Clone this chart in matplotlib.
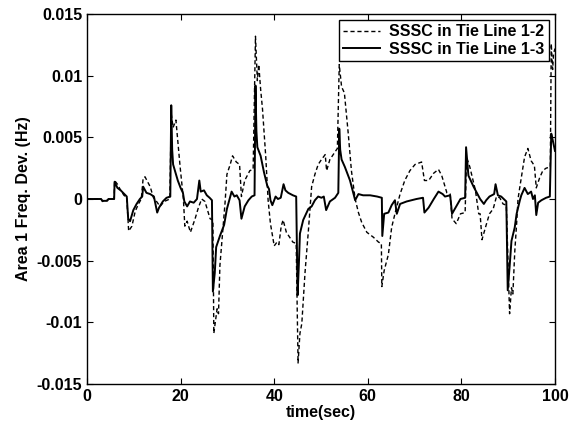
import matplotlib
matplotlib.use("Agg")
import matplotlib.pyplot as plt
from matplotlib.ticker import FuncFormatter

# SSSC in Tie Line 1-2 (dashed)
t_12 = [0, 3.0, 3.3, 4.3, 4.6, 5.8, 5.9, 6.5, 7.2, 7.9, 8.5, 8.9, 9.6, 10.3, 11.0, 11.6,
        12.0, 12.4, 12.8, 13.5, 14.2, 14.5, 15.6, 16.5, 17.7, 18.0, 18.4, 19.0, 19.9, 20.6,
        20.9, 21.4, 22.1, 23.1, 23.8, 24.5, 25.2, 26.3, 26.9, 27.1, 27.8, 28.1, 28.4, 29.1,
        29.5, 29.9, 30.6, 31.1, 31.9, 32.6, 33.0, 33.7, 34.8, 35.5, 36.0, 36.4, 36.7, 37.1,
        37.5, 38.2, 38.7, 39.2, 39.6, 40.0, 40.6, 41.0, 41.5, 41.9, 42.6, 44.0, 44.7, 45.1,
        45.5, 45.9, 46.6, 47.3, 47.7, 48.0, 48.7, 49.4, 50.1, 50.9, 51.2, 51.9, 52.6, 53.5,
        53.9, 54.4, 55.0, 55.8, 56.5, 57.3, 58.0, 58.7, 59.8, 61.2, 62.3, 62.9, 63.0, 63.5,
        64.4, 65.1, 65.8, 66.9, 67.9, 69.0, 70.1, 71.5, 72.1, 73.0, 74.1, 75.1, 75.8, 76.9,
        77.6, 78.0, 78.9, 79.8, 80.8, 81.1, 81.8, 83.0, 83.7, 84.0, 84.4, 85.3, 86.0, 86.8,
        87.5, 88.2, 88.9, 89.6, 90.3, 90.7, 91.0, 91.4, 91.8, 92.1, 92.5, 93.5, 94.2, 94.9,
        95.6, 96.0, 96.7, 97.4, 98.1, 99.0, 99.2, 99.5, 99.7, 100]
f_12 = [0, 0, -0.0002, -0.0001, 0, 0, 0.0015, 0.0012, 0.0007, 0.0003, 0.0001, -0.0026,
        -0.0022, -0.0010, -0.0004, 0.0, 0.0017, 0.0018, 0.0015, 0.0010, 0.0001, 0.0,
        -0.0006, -0.0002, 0.0, 0.0069, 0.0058, 0.0064, 0.0026, 0.0, -0.0022, -0.0018,
        -0.0027, -0.0016, -0.0007, 0.0, -0.0002, -0.0016, -0.0017, -0.0109, -0.0089,
        -0.0093, -0.0054, -0.0022, -0.0003, 0.0020, 0.0028, 0.0035, 0.0030, 0.0028, 0.0002,
        0.0015, 0.0023, 0.0024, 0.0132, 0.0096, 0.0109, 0.0089, 0.0073, 0.0034, -0.0001,
        -0.0020, -0.0029, -0.0038, -0.0035, -0.0037, -0.0022, -0.0017, -0.0027, -0.0035,
        -0.0036, -0.0133, -0.0109, -0.0101, -0.0059, -0.0026, -0.0006, 0.0010, 0.0020,
        0.0028, 0.0032, 0.0036, 0.0023, 0.0032, 0.0036, 0.0041, 0.0109, 0.0091, 0.0086,
        0.0054, 0.0023, 0.0, -0.0011, -0.0019, -0.0027, -0.0031, -0.0035, -0.0036, -0.0071,
        -0.0058, -0.0045, -0.0023, -0.0012, 0.0004, 0.0015, 0.0023, 0.0028, 0.0030, 0.0015,
        0.0015, 0.0021, 0.0024, 0.0019, 0.0005, 0.0004, -0.0016, -0.0020, -0.0012, -0.0011,
        0.0034, 0.0026, 0.0007, -0.0012, -0.0012, -0.0033, -0.0021, -0.0012, -0.0008,
        0.0002, 0.0001, -0.0004, -0.0005, -0.0093, -0.0072, -0.0077, -0.0043, -0.0020, 0.0,
        0.0010, 0.0034, 0.0041, 0.0031, 0.0027, 0.0009, 0.0017, 0.0023, 0.0025, 0.0026,
        0.0126, 0.0105, 0.0118, 0.0122]

# SSSC in Tie Line 1-3 (solid)
t_13 = [0, 3.0, 3.3, 4.3, 4.6, 5.8, 5.9, 6.5, 7.2, 8.5, 8.8, 9.2, 9.9, 10.6, 11.3, 11.8,
        12.0, 12.7, 13.5, 14.3, 15.0, 15.4, 16.2, 17.0, 17.8, 18.0, 18.2, 18.4, 19.4, 20.0,
        20.5, 20.8, 21.4, 22.0, 22.8, 23.5, 24.0, 24.3, 25.0, 25.6, 26.2, 26.7, 26.9, 27.3,
        27.6, 28.4, 29.3, 29.9, 30.6, 30.9, 31.5, 32.0, 32.6, 33.0, 33.7, 34.5, 35.2, 35.8,
        36.0, 36.2, 36.4, 37.1, 37.8, 38.5, 38.9, 39.2, 39.6, 40.3, 40.8, 41.4, 42.0, 42.4,
        43.0, 44.0, 44.7, 45.0, 45.3, 45.5, 46.2, 47.3, 48.0, 48.7, 49.4, 50.1, 50.6, 51.1,
        51.9, 53.0, 53.7, 53.9, 54.1, 54.4, 55.1, 56.2, 57.3, 58.0, 59.0, 60.5, 62.0, 63.0,
        63.1, 63.5, 64.4, 65.1, 65.8, 66.2, 66.9, 68.3, 70.4, 71.8, 72.1, 73.0, 74.1, 75.1,
        76.0, 76.5, 77.6, 78.0, 78.9, 79.8, 80.8, 81.0, 81.5, 82.6, 83.3, 84.0, 84.8, 85.3,
        86.0, 87.0, 87.3, 87.8, 88.5, 89.6, 89.9, 90.3, 90.7, 91.4, 91.8, 92.5, 92.8, 93.5,
        94.2, 94.9, 95.3, 95.7, 96.0, 96.4, 97.1, 98.1, 98.9, 99.2, 99.5, 100]
f_13 = [0, 0, -0.00015, -0.00015, 0, 0, 0.0014, 0.0009, 0.0007, 0.0002, -0.0016, -0.0018,
        -0.0009, -0.0004, 0.0, 0.0002, 0.0010, 0.0005, 0.0004, 0.0002, -0.0011, -0.0007,
        -0.0002, 0.0001, 0.0002, 0.0076, 0.0040, 0.0028, 0.0015, 0.0009, 0.0005, -0.0002,
        -0.0006, -0.0002, -0.0003, 0.0, 0.0015, 0.0006, 0.0007, 0.0003, 0.0001, -0.0001,
        -0.0075, -0.0060, -0.0039, -0.0030, -0.0021, -0.0008, 0.0002, 0.0006, 0.0002, 0.0003,
        -0.0001, -0.0016, -0.0006, -0.0001, 0.0002, 0.0003, 0.0092, 0.0055, 0.0042, 0.0035,
        0.0022, 0.0011, 0.0008, -0.0001, -0.0005, 0.0002, 0.0, 0.0001, 0.0012, 0.0007,
        0.0005, 0.0003, 0.0002, -0.0078, -0.0050, -0.0028, -0.0017, -0.0008, -0.0006,
        -0.0001, 0.0002, 0.0001, 0.0002, -0.0009, -0.0002, 0.0001, 0.0005, 0.0057, 0.0040,
        0.0032, 0.0026, 0.0015, -0.0001, 0.0004, 0.0003, 0.0003, 0.0002, 0.0001, -0.0030,
        -0.0012, -0.0011, -0.0005, -0.0001, -0.0012, -0.0004, -0.0002, 0.0, 0.0001, -0.0011,
        -0.0007, 0.0, 0.0006, 0.0004, 0.0002, 0.0003, -0.0012, -0.0006, 0.0, 0.0001, 0.0042,
        0.0019, 0.0010, 0.0005, 0.0, -0.0004, -0.0001, 0.0002, 0.0004, 0.0012, 0.0003,
        0.0002, -0.0002, -0.0074, -0.0055, -0.0034, -0.0023, -0.0012, -0.0001, 0.0003,
        0.0009, 0.0004, 0.0006, 0.0, 0.0003, -0.0013, -0.0003, -0.0001, 0.0001, 0.0002,
        0.0053, 0.0048, 0.0039]

x_ticks = [0, 20, 40, 60, 80, 100]
y_ticks = [-0.015, -0.01, -0.005, 0, 0.005, 0.01, 0.015]

plt.rcParams["font.family"] = ["Liberation Sans", "DejaVu Sans"]
plt.rcParams["font.weight"] = "bold"

fig = plt.figure(figsize=(5.75, 4.23), dpi=100)
ax = fig.add_axes([0.1513, 0.0922, 0.8139, 0.8747])

ax.plot(t_12, f_12, color="black", lw=1.0, linestyle=(0, (3, 2)),
        label="SSSC in Tie Line 1-2")
ax.plot(t_13, f_13, color="black", lw=1.4, label="SSSC in Tie Line 1-3")

ax.set_xlim(0, 100)
ax.set_ylim(-0.015, 0.015)
ax.set_xticks(x_ticks)
ax.set_yticks(y_ticks)
ax.yaxis.set_major_formatter(FuncFormatter(lambda v, p: "%g" % round(v, 4)))
ax.tick_params(direction="in", top=True, right=True, length=4, labelsize=11.5,
               width=0.8)
for s in ax.spines.values():
    s.set_linewidth(1.0)

ax.set_xlabel("time(sec)", fontsize=11.5, fontweight="bold", labelpad=1)
ax.set_ylabel("Area 1 Freq. Dev. (Hz)", fontsize=11.5, fontweight="bold", labelpad=4)

leg = ax.legend(loc="upper right", fontsize=11.5, fancybox=False, framealpha=1,
                edgecolor="black", handlelength=2.3, borderpad=0.25,
                labelspacing=0.15, borderaxespad=0.4, handletextpad=0.6)
leg.get_frame().set_linewidth(1.0)

fig.savefig("out.png", dpi=100)
